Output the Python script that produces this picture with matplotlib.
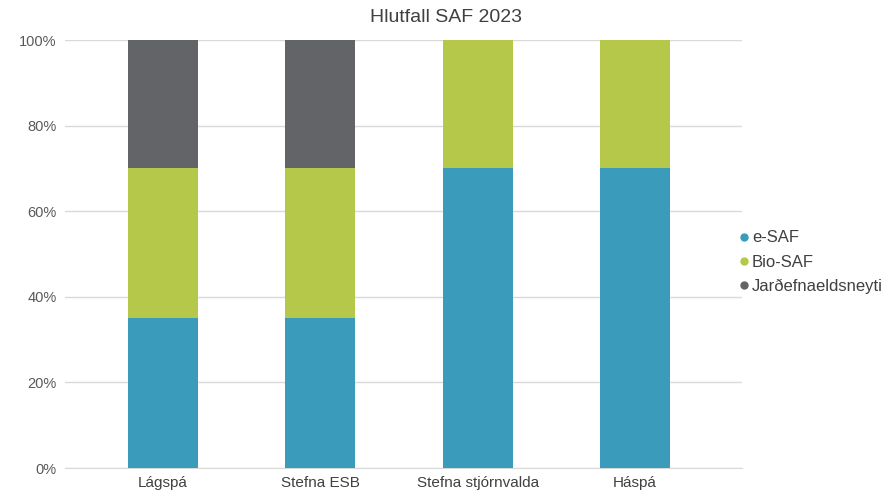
import matplotlib
matplotlib.use("Agg")
import matplotlib.pyplot as plt
from matplotlib.lines import Line2D
import numpy as np

categories = ["Lágspá", "Stefna ESB", "Stefna stjórnvalda", "Háspá"]
e_saf = [35, 35, 70, 70]
bio_saf = [35, 35, 30, 30]
fossil = [30, 30, 0, 0]
series_names = ["e-SAF", "Bio-SAF", "Jarðefnaeldsneyti"]
colors = ["#3A9BBA", "#B5C84A", "#636468"]
yticks = [0, 20, 40, 60, 80, 100]

plt.rcParams['font.family'] = ['Liberation Sans', 'DejaVu Sans']

fig = plt.figure(figsize=(8.92, 4.91), dpi=100)
ax = fig.add_axes([0.0729, 0.0468, 0.832 - 0.0729, 0.9185 - 0.0468])

x = np.arange(len(categories))
w = 0.445
bottom = np.zeros(len(categories))
for vals, c in zip([e_saf, bio_saf, fossil], colors):
    ax.bar(x, vals, w, bottom=bottom, color=c, zorder=3)
    bottom += np.array(vals)

ax.set_xlim(-0.62, 3.68)
ax.set_ylim(0, 100)
ax.set_yticks(yticks)
ax.set_yticklabels([f"{v}%" for v in yticks], color="#595959", fontsize=10.5)
ax.set_xticks(x)
ax.set_xticklabels(categories, color="#404040", fontsize=11)
ax.tick_params(length=0, pad=6)
ax.grid(axis="y", color="#D9D9D9", linewidth=1, zorder=0)
for s in ["top", "right", "left"]:
    ax.spines[s].set_visible(False)
ax.spines["bottom"].set_color("#D9D9D9")

fig.text(0.5, 0.965, "Hlutfall SAF 2023", ha="center", va="center", fontsize=14, color="#404040")

handles = [Line2D([], [], marker="o", linestyle="", markersize=5, color=c) for c in colors]
fig.legend(handles, series_names, loc="center left", bbox_to_anchor=(0.815, 0.466),
           frameon=False, fontsize=12, handletextpad=0.0, labelspacing=0.55,
           handlelength=1.0, labelcolor="#404040", borderpad=0)

fig.savefig("out.png", dpi=100)
